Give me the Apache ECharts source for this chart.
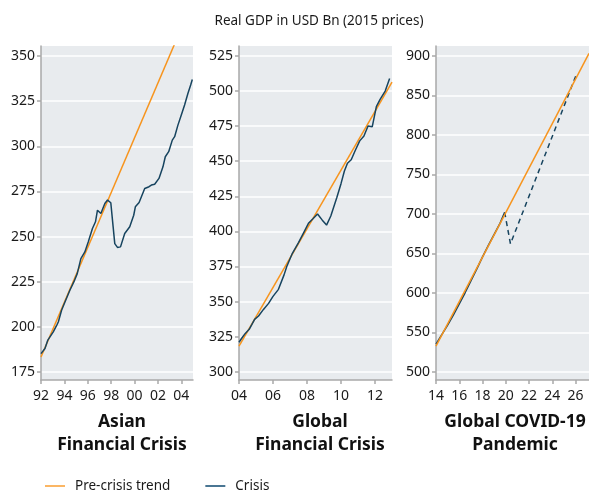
<!DOCTYPE html>
<html>
  <head>
    <meta charset="utf-8" />
    <title>Real GDP crises</title>
    <script src="https://cdn.jsdelivr.net/npm/echarts@6/dist/echarts.min.js"></script>
  </head>
  <body style="margin: 0">
    <div id="main" style="width: 589px; height: 492px"></div>
    <script type="text/javascript">
      // Asian financial crisis
      const asiaYears = [1992.0, 1992.34, 1992.57, 1993.05, 1993.35, 1993.48, 1993.76, 1994.05, 1994.47, 1994.81,
        1995.1, 1995.41, 1995.75, 1996.04, 1996.4, 1996.66, 1996.83, 1997.12, 1997.46, 1997.69, 1997.97,
        1998.17, 1998.31, 1998.54, 1998.8, 1999.16, 1999.59, 1999.93, 2000.07, 2000.39, 2000.87, 2001.24,
        2001.44, 2001.72, 2002.09, 2002.43, 2002.63, 2002.92, 2003.23, 2003.43, 2003.71, 2004.0, 2004.28,
        2004.57, 2004.8, 2004.94];
      const asiaGdp = [185.2, 188, 192.5, 197.2, 201, 202.7, 209.2, 213.8, 220.3, 224.9,
        229.5, 237.8, 241.5, 247, 254.5, 258.2, 264.6, 262.8, 268.3, 270.2, 268.7,
        255.4, 246.1, 244, 244.3, 251.7, 255.4, 261.8, 266.5, 268.9, 276.6, 277.6,
        278.5, 279, 282.2, 288.6, 294.2, 297, 303.4, 305.3, 311.7, 317.3, 322.8,
        329.3, 333.9, 337];
      const asiaTrendYears = [1992, 2005];
      const asiaTrend = [183.3, 380.5];

      // Global financial crisis
      const gfcYears = [2004.0, 2004.18, 2004.37, 2004.6, 2004.76, 2004.92, 2005.15, 2005.44, 2005.74, 2005.99,
        2006.32, 2006.65, 2006.81, 2007.14, 2007.5, 2007.8, 2008.1, 2008.35, 2008.62, 2008.9, 2009.15,
        2009.4, 2009.75, 2010.0, 2010.2, 2010.38, 2010.6, 2010.85, 2011.1, 2011.35, 2011.59, 2011.84,
        2012.08, 2012.3, 2012.6, 2012.86];
      const gfcGdp = [321, 324.2, 327.3, 330.2, 333.7, 337.3, 339.7, 344.4, 348.7, 353.5,
        358.7, 369, 375, 384.4, 392, 399, 406, 409, 412.4, 408, 404.5,
        411, 424, 434, 443, 448.5, 451, 458, 464.5, 468, 475.1, 474.6,
        488.9, 494, 500, 509];
      const gfcTrendYears = [2004, 2013];
      const gfcTrend = [318.3, 506.4];

      // COVID-19 pandemic
      const covidYears = [2014.0, 2014.5, 2015.0, 2015.5, 2016.0, 2016.5, 2017.0, 2017.5, 2018.0, 2018.5,
        2019.0, 2019.5, 2019.9];
      const covidGdp = [535, 547, 559, 572, 586, 600, 615, 630, 645.5, 660, 674, 688, 702];
      const covidProjYears = [2019.9, 2020.4, 2026.1];
      const covidProj = [702, 662, 878];
      const covidTrendYears = [2014, 2027.15];
      const covidTrend = [532.5, 903.3];

      // tick labels
      const asiaYTicks = [175, 200, 225, 250, 275, 300, 325, 350];
      const gfcYTicks = [300, 325, 350, 375, 400, 425, 450, 475, 500, 525];
      const covidYTicks = [500, 550, 600, 650, 700, 750, 800, 850, 900];
      const asiaXTicks = [1992, 1994, 1996, 1998, 2000, 2002, 2004];
      const gfcXTicks = [2004, 2006, 2008, 2010, 2012];
      const covidXTicks = [2014, 2016, 2018, 2020, 2022, 2024, 2026];

      const ORANGE = '#f7941d';
      const BLUE = '#17445f';
      const FONT = 'Noto Sans';

      function pairs(xs, ys) {
        return xs.map(function (x, i) {
          return [x, ys[i]];
        });
      }
      function yearLabel(v) {
        return String(Math.round(v) % 100).padStart(2, '0');
      }

      var chartDom = document.getElementById('main');
      var myChart = echarts.init(chartDom, null, { renderer: 'canvas' });

      const grids = [
        { left: 41, top: 46, width: 152, height: 334 },
        { left: 239, top: 46, width: 153, height: 334 },
        { left: 436, top: 46, width: 153, height: 334 }
      ];
      const xRanges = [[1992, 2005], [2004, 2013], [2014, 2027.15]];
      const yRanges = [[170.6, 355.5], [294.1, 532.1], [489.5, 912.7]];
      const xTicks = [asiaXTicks, gfcXTicks, covidXTicks];
      const yTicks = [asiaYTicks, gfcYTicks, covidYTicks];

      const axisLineStyle = { color: '#a9a9a9', width: 1.5 };

      const xAxis = grids.map(function (g, i) {
        return {
          type: 'value',
          gridIndex: i,
          min: xRanges[i][0],
          max: xRanges[i][1],
          axisLine: { show: true, lineStyle: axisLineStyle },
          axisTick: { show: true, length: 4, lineStyle: axisLineStyle, customValues: xTicks[i] },
          axisLabel: {
            customValues: xTicks[i],
            formatter: yearLabel,
            color: '#1a1a1a',
            fontSize: 14,
            fontFamily: FONT,
            margin: 9
          },
          splitLine: { show: false }
        };
      });
      const yAxis = grids.map(function (g, i) {
        return {
          type: 'value',
          gridIndex: i,
          min: yRanges[i][0],
          max: yRanges[i][1],
          axisLine: { show: true, lineStyle: axisLineStyle },
          axisTick: { show: true, length: 4, lineStyle: axisLineStyle, customValues: yTicks[i] },
          axisLabel: {
            customValues: yTicks[i],
            color: '#1a1a1a',
            fontSize: 14,
            fontFamily: FONT,
            margin: 6
          },
          splitLine: { show: true, lineStyle: { color: '#ffffff', width: 1.5 } }
        };
      });

      function lineSeries(name, i, xs, ys, color, dashed) {
        return {
          name: name,
          type: 'line',
          xAxisIndex: i,
          yAxisIndex: i,
          symbol: 'none',
          clip: true,
          silent: true,
          lineStyle: { color: color, width: 1.5, type: dashed ? [5, 4] : 'solid' },
          itemStyle: { color: color },
          data: pairs(xs, ys)
        };
      }

      const panelTitles = ['Asian\nFinancial Crisis', 'Global\nFinancial Crisis', 'Global COVID-19\nPandemic'];
      const titleCenters = [117, 315, 510];

      var option = {
        animation: false,
        backgroundColor: '#ffffff',
        title: [
          {
            text: 'Real GDP in USD Bn (2015 prices)',
            left: 314,
            top: 9,
            textAlign: 'center',
            textStyle: { fontSize: 13.5, fontWeight: 'normal', color: '#1a1a1a', fontFamily: FONT }
          }
        ].concat(
          panelTitles.map(function (t, i) {
            return {
              text: t,
              left: titleCenters[i],
              top: 406,
              textAlign: 'center',
              textStyle: { fontSize: 17.5, fontWeight: 'bold', color: '#111', fontFamily: FONT, lineHeight: 23 }
            };
          })
        ),
        legend: {
          left: 40,
          top: 474,
          icon: 'rect',
          itemWidth: 20,
          itemHeight: 2,
          itemGap: 35,
          textStyle: { fontSize: 13.5, color: '#1a1a1a', fontFamily: FONT, padding: [0, 0, 0, 5] },
          data: [
            { name: 'Pre-crisis trend', itemStyle: { color: '#fbb664' } },
            { name: 'Crisis', itemStyle: { color: '#4a7693' } }
          ]
        },
        grid: grids.map(function (g) {
          return Object.assign({ show: true, backgroundColor: '#e8ebee', borderWidth: 0 }, g);
        }),
        xAxis: xAxis,
        yAxis: yAxis,
        series: [
          lineSeries('Pre-crisis trend', 0, asiaTrendYears, asiaTrend, ORANGE),
          lineSeries('Crisis', 0, asiaYears, asiaGdp, BLUE),
          lineSeries('Pre-crisis trend', 1, gfcTrendYears, gfcTrend, ORANGE),
          lineSeries('Crisis', 1, gfcYears, gfcGdp, BLUE),
          lineSeries('Crisis', 2, covidYears, covidGdp, BLUE),
          lineSeries('Crisis', 2, covidProjYears, covidProj, BLUE, true),
          lineSeries('Pre-crisis trend', 2, covidTrendYears, covidTrend, ORANGE)
        ]
      };

      option && myChart.setOption(option);
    </script>
  </body>
</html>
